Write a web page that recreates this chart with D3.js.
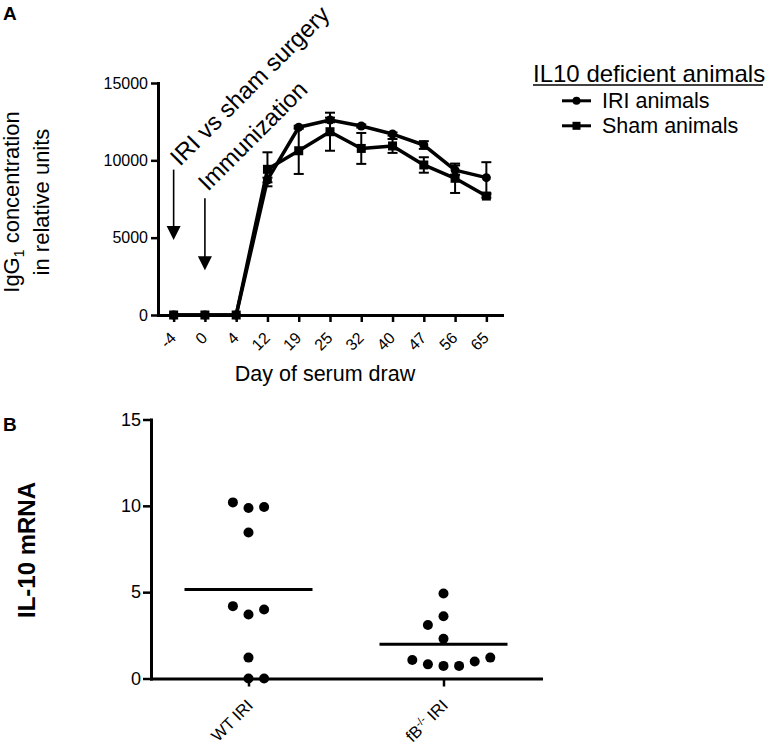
<!DOCTYPE html>
<html><head><meta charset="utf-8">
<script src="https://cdn.jsdelivr.net/npm/d3@7"></script>
<style>
body{margin:0;background:#fff}
svg{display:block}
text{font-family:"Liberation Sans",Arial,Helvetica,sans-serif;fill:#000}
</style>
</head><body>
<svg id="c" width="767" height="748"></svg>
<script>
// ---------- Panel A data ----------
const days = ["-4","0","4","12","19","25","32","40","47","56","65"];
const iriMean  = [0,0,0,8730,12140,12610,12220,11700,10990,9370,8880];
const iriSem   = [0,0,0,150,100,150,100,100,250,300,1000];
const shamMean = [0,0,0,9420,10620,11850,10770,10930,9700,8840,7690];
const shamSem  = [0,0,0,1100,1500,1230,1000,450,500,950,100];
const yTicksA  = [0,5000,10000,15000];
const seriesNames = ["IRI animals","Sham animals"];

// ---------- Panel B data ----------
const groupsB   = ["WT IRI","fB-/- IRI"];
const wtValues  = [10.2,9.87,9.93,8.46,4.19,3.71,4.0,1.21,0,0];
const wtCol     = [-1,0,1,0,-1,0,1,0,0,1];
const fbValues  = [4.92,3.61,3.1,2.3,1.07,0.82,0.73,0.73,0.98,1.21];
const fbCol     = [0,0,-1,0,-2,-1,0,1,2,3];
const meansB    = [5.15,1.99];
const yTicksB   = [0,5,10,15];

const svg = d3.select("#c");

// ================= Panel A =================
const xA = d3.scalePoint().domain(days).range([158,502]).padding(0.5);
const yA = d3.scaleLinear().domain([0,15000]).range([315,83]);

svg.append("text").attr("x",3).attr("y",20).attr("font-size",19).attr("font-weight","bold").text("A");

const gxA = svg.append("g").attr("transform","translate(0,315)")
  .call(d3.axisBottom(xA).tickSize(7).tickSizeOuter(0));
gxA.select(".domain").attr("stroke-width",3).attr("stroke-linecap","square");
gxA.selectAll(".tick line").attr("stroke-width",2.5);
gxA.selectAll(".tick text").attr("font-size",16).attr("text-anchor","end")
  .attr("x",0).attr("y",0).attr("dy",0).attr("transform","translate(3,24) rotate(-45)");

const gyA = svg.append("g").attr("transform","translate(158,0)")
  .call(d3.axisLeft(yA).tickValues(yTicksA).tickSize(7).tickPadding(3).tickSizeOuter(0).tickFormat(d3.format("d")));
gyA.select(".domain").attr("stroke-width",3).attr("stroke-linecap","square");
gyA.selectAll(".tick line").attr("stroke-width",2.5);
gyA.selectAll(".tick text").attr("font-size",16);

svg.append("text").attr("x",325).attr("y",381).attr("text-anchor","middle").attr("font-size",21.5).text("Day of serum draw");

const yt1 = svg.append("text").attr("transform","translate(19,202) rotate(-90)").attr("text-anchor","middle").attr("font-size",22);
yt1.append("tspan").text("IgG");
yt1.append("tspan").attr("font-size",14).attr("dy",5).text("1");
yt1.append("tspan").attr("dy",-5).text(" concentration");
svg.append("text").attr("transform","translate(49,202) rotate(-90)").attr("text-anchor","middle").attr("font-size",22).text("in relative units");

const lineA = d3.line().x((d,i)=>xA(days[i])).y(d=>yA(d));
[iriMean, shamMean].forEach(s=>{
  svg.append("path").attr("d",lineA(s)).attr("fill","none").attr("stroke","#000")
    .attr("stroke-width",3.5).attr("stroke-linejoin","round");
});

function errBars(means, sems){
  means.forEach((m,i)=>{
    const s = sems[i]; if(!s) return;
    const x = xA(days[i]);
    svg.append("line").attr("x1",x).attr("x2",x).attr("y1",yA(m-s)).attr("y2",yA(m+s)).attr("stroke","#000").attr("stroke-width",2);
    [m-s,m+s].forEach(v=>svg.append("line").attr("x1",x-5).attr("x2",x+5).attr("y1",yA(v)).attr("y2",yA(v)).attr("stroke","#000").attr("stroke-width",2));
  });
}
errBars(iriMean, iriSem);
errBars(shamMean, shamSem);

svg.append("g").selectAll("circle").data(iriMean).join("circle")
  .attr("cx",(d,i)=>xA(days[i])).attr("cy",d=>yA(d)).attr("r",4.5).attr("fill","#000");
svg.append("g").selectAll("rect").data(shamMean).join("rect")
  .attr("x",(d,i)=>xA(days[i])-4.5).attr("y",d=>yA(d)-4.5).attr("width",9).attr("height",9).attr("fill","#000");

// arrows
function arrow(day, fromV, tipV){
  const x = xA(day), y0 = yA(fromV), y1 = yA(tipV);
  svg.append("line").attr("x1",x).attr("x2",x).attr("y1",y0).attr("y2",y1-12).attr("stroke","#000").attr("stroke-width",1.6);
  svg.append("path").attr("d",`M${x-7},${y1-14}L${x+7},${y1-14}L${x},${y1}Z`).attr("fill","#000");
}
arrow("-4", 9400, 4850);
arrow("0", 7550, 2900);

svg.append("text").attr("transform","translate(180,167) rotate(-45)").attr("font-size",24).text("IRI vs sham surgery");
svg.append("text").attr("transform","translate(208,192) rotate(-45)").attr("font-size",24).text("Immunization");

// legend
svg.append("text").attr("x",533).attr("y",81.5).attr("font-size",24).text("IL10 deficient animals");
svg.append("line").attr("x1",533).attr("x2",763).attr("y1",85).attr("y2",85).attr("stroke","#000").attr("stroke-width",1.6);
seriesNames.forEach((n,i)=>{
  const by = 108.3 + i*25;
  svg.append("line").attr("x1",562).attr("x2",591).attr("y1",by-7.5).attr("y2",by-7.5).attr("stroke","#000").attr("stroke-width",3);
  if(i===0) svg.append("circle").attr("cx",576.5).attr("cy",by-7.5).attr("r",4).attr("fill","#000");
  else svg.append("rect").attr("x",572.5).attr("y",by-11.5).attr("width",8).attr("height",8).attr("fill","#000");
  svg.append("text").attr("x",602).attr("y",by).attr("font-size",21.5).text(n);
});

// ================= Panel B =================
const xB = d3.scalePoint().domain(groupsB).range([151,541]).padding(0.5);
const yB = d3.scaleLinear().domain([0,15]).range([678.5,419.5]);
const colStep = 15.6;

svg.append("text").attr("x",3).attr("y",431).attr("font-size",19).attr("font-weight","bold").text("B");

const gxB = svg.append("g").attr("transform","translate(0,678.5)")
  .call(d3.axisBottom(xB).tickSize(8).tickSizeOuter(0).tickFormat(""));
gxB.select(".domain").attr("stroke-width",3).attr("stroke-linecap","square");
gxB.selectAll(".tick line").attr("stroke-width",2.5);
gxB.selectAll(".tick").each(function(d){
  const t = d3.select(this).append("text").attr("font-size",16.5).attr("text-anchor","end")
    .attr("transform","translate(5,28) rotate(-45)");
  const parts = d.split("-/-");
  if(parts.length===1){ t.text(d); }
  else {
    t.append("tspan").text(parts[0]);
    t.append("tspan").attr("font-size",11).attr("dy",-6).text("-/-");
    t.append("tspan").attr("dy",6).text(parts[1]);
  }
});

const gyB = svg.append("g").attr("transform","translate(151,0)")
  .call(d3.axisLeft(yB).tickValues(yTicksB).tickSize(8).tickPadding(2).tickSizeOuter(0));
gyB.select(".domain").attr("stroke-width",3).attr("stroke-linecap","square");
gyB.selectAll(".tick line").attr("stroke-width",2.5);
gyB.selectAll(".tick text").attr("font-size",18);

svg.append("text").attr("transform","translate(35,550) rotate(-90)").attr("text-anchor","middle")
  .attr("font-size",24).attr("font-weight","bold").text("IL-10 mRNA");

[[wtValues,wtCol],[fbValues,fbCol]].forEach(([vals,cols],g)=>{
  svg.append("g").selectAll("circle").data(vals).join("circle")
    .attr("cx",(d,i)=>xB(groupsB[g])+cols[i]*colStep).attr("cy",d=>yB(d)).attr("r",5).attr("fill","#000");
});
meansB.forEach((m,g)=>{
  svg.append("line").attr("x1",xB(groupsB[g])-64).attr("x2",xB(groupsB[g])+64)
    .attr("y1",yB(m)).attr("y2",yB(m)).attr("stroke","#000").attr("stroke-width",3);
});
</script>
</body></html>
